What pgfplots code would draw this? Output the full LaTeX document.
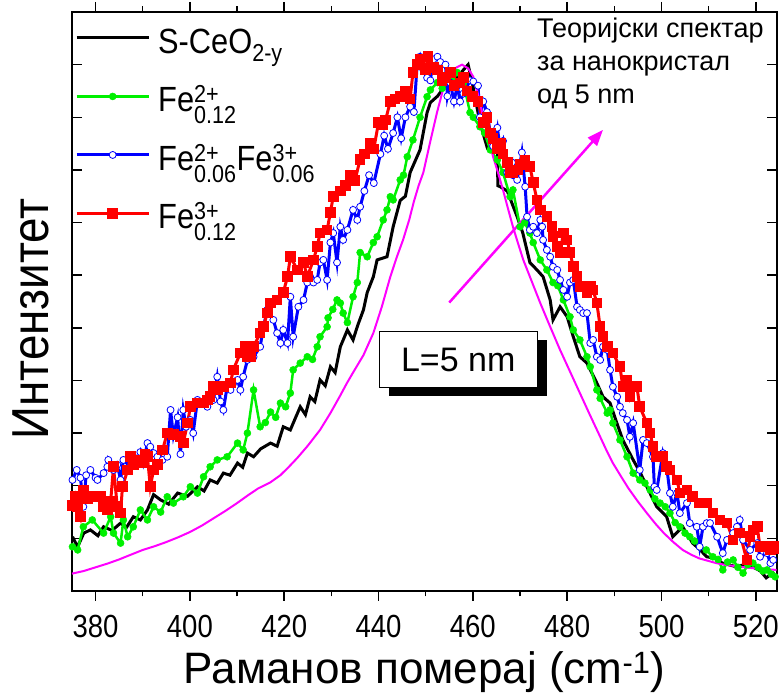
\documentclass[border=0pt]{standalone}
\usepackage{fontspec}
\setmainfont{Liberation Sans}
\newfontfamily\cond{Liberation Sans}[FakeStretch=0.88]
\newfontfamily\tickf{Liberation Sans}[FakeStretch=0.86]
\usepackage{amsmath}
\usepackage{pgfplots}
\pgfplotsset{compat=1.18}
\usetikzlibrary{arrows.meta,shadows}
\definecolor{cgreen}{RGB}{0,240,0}
\definecolor{cblue}{RGB}{0,0,255}
\definecolor{cred}{RGB}{255,0,0}
\definecolor{cmag}{RGB}{255,0,255}
\newcommand\lstrut{\rule[-11pt]{0pt}{43pt}}
\begin{document}
\begin{tikzpicture}
\path[use as bounding box] (-72pt,-102pt) rectangle (707pt,591pt);
\begin{axis}[
  scale only axis, width=705pt, height=579pt,
  at={(0pt,0pt)}, anchor=south west,
  xmin=375, xmax=524.5, ymin=0, ymax=11,
  xtick={380,400,...,520}, minor xtick={390,410,...,510},
  ytick={1,...,10}, yticklabels={},
  xtick pos=both, ytick pos=both,
  xtick align=outside, ytick align=inside,
  major tick length=10pt, minor tick length=5.5pt,
  every tick/.style={black, line width=1.5pt},
  axis line style={line width=1.5pt},
  /pgf/number format/assume math mode=true,
  /pgf/number format/set thousands separator={},
  xticklabel style={font=\tickf\fontsize{32}{36}\selectfont, yshift=-11pt},
  xlabel={Раманов померај (cm$^{\text{-1}}$)},
  ylabel={Интензитет},
  xlabel style={font=\fontsize{44}{50}\selectfont, at={(axis description cs:0.5,0)}, anchor=base, yshift=-92pt},
  ylabel style={font=\cond\fontsize{52}{58}\selectfont, at={(axis description cs:-0.058,0.47)}, anchor=center},
  legend style={at={(axis description cs:0,1)}, anchor=north west, draw=none, fill=none,
     font=\cond\fontsize{35}{40}\selectfont, row sep=21pt, column sep=6pt, inner xsep=3pt, inner ysep=0pt, yshift=-7pt},
  legend cell align=left,
  legend image code/.code={\draw[mark repeat=2,mark phase=2,#1] plot coordinates {(0pt,0pt) (36pt,0pt) (72pt,0pt)};},
]
% S-CeO2-y (black)
\addplot[black, line width=3pt] coordinates {
(375.1,1.03)(376.2,0.84)(377.5,1.10)(378.9,1.16)(380.5,1.05)(381.7,1.22)(383.5,1.15)(385.3,1.29)(386.5,1.20)(388.0,1.41)
(389.5,1.35)(391.0,1.54)(392.3,1.83)(393.8,1.73)(395.5,1.65)(397.4,1.86)(399.5,1.80)(401.6,1.98)(403.0,1.90)(404.3,2.11)
(405.8,2.05)(407.1,2.24)(408.5,2.20)(410.1,2.43)(411.2,2.35)(412.2,2.62)(413.5,2.55)(415.0,2.70)(417.1,2.81)(418.5,2.75)
(419.8,3.12)(421.3,3.06)(422.2,3.25)(423.4,3.50)(424.5,3.35)(425.5,3.69)(426.5,3.60)(427.6,4.01)(428.7,3.90)(429.8,4.26)
(430.8,4.15)(431.9,4.64)(433.4,4.96)(434.6,4.77)(435.6,5.05)(436.8,5.34)(437.6,5.67)(438.9,5.97)(439.7,6.29)(441.8,6.35)
(443.1,6.92)(444.6,7.42)(445.7,7.50)(446.7,7.95)(448.8,8.38)(450.3,9.09)(451.0,9.28)(452.5,9.40)(454.2,9.60)(456.2,9.70)
(458.0,9.90)(459.0,10.00)(460.0,9.60)(461.5,8.90)(463.0,8.44)(464.3,8.60)(465.2,8.60)(465.3,7.70)(465.8,7.68)(467.3,7.60)
(469.4,7.11)(470.6,6.80)(472.1,6.24)(473.6,6.10)(474.9,5.97)(476.4,5.53)(477.0,5.15)(478.5,5.40)(480.0,5.21)(481.3,4.83)
(482.7,4.45)(484.2,4.33)(486.3,3.95)(487.6,3.69)(489.1,3.57)(490.5,3.20)(491.8,2.87)(494.0,2.49)(495.5,2.25)(496.9,1.98)
(499.0,1.60)(501.1,1.41)(502.4,1.03)(504.5,1.22)(506.6,0.91)(508.0,0.80)(509.6,0.65)(511.5,0.62)(512.9,0.53)(515.9,0.46)
(517.5,0.50)(519.3,0.46)(521.0,0.38)(522.2,0.25)(523.9,0.36)
};
\addlegendentry{\lstrut S-CeO$_{\text{\cond 2-y}}$}
% Fe2+ 0.12 (green)
\addplot[cgreen, line width=2.5pt, mark=*, mark size=3.5pt, mark options={fill=cgreen, draw=cgreen, line width=0.5pt}] coordinates {
(375.1,0.84)(376.2,0.78)(377.4,1.22)(379.3,1.35)(381.7,1.10)(383.2,1.41)(383.8,1.10)(385.3,0.91)(385.9,1.35)(386.8,1.03)
(388.0,1.22)(389.5,1.54)(391.0,1.35)(392.3,1.60)(393.8,1.50)(395.2,1.79)(396.5,1.67)(398.6,1.79)(400.1,1.98)(401.6,1.86)
(402.9,2.17)(404.3,2.36)(405.8,2.49)(407.9,2.55)(410.1,2.81)(411.3,2.68)(412.2,3.00)(413.5,3.82)(414.9,3.12)(416.0,3.20)
(417.1,3.40)(418.2,3.30)(419.2,3.57)(420.3,3.50)(421.3,3.76)(421.9,4.20)(423.4,4.33)(424.9,4.45)(426.0,4.40)(427.0,4.64)
(427.6,4.83)(429.1,5.02)(429.3,5.19)(430.3,5.35)(431.2,5.53)(431.9,5.47)(432.5,5.28)(433.4,5.10)(434.6,5.59)(435.5,5.86)
(436.1,6.43)(437.6,6.35)(438.9,6.62)(439.7,6.73)(441.0,7.05)(441.8,7.24)(442.5,7.49)(443.1,7.43)(444.6,7.81)(445.3,7.90)
(446.1,8.25)(447.3,8.57)(448.8,9.00)(450.3,9.39)(451.0,9.52)(452.5,9.66)(453.5,9.55)(454.6,9.77)(455.7,9.70)(456.7,9.85)
(458.0,9.66)(459.4,9.09)(460.1,9.00)(461.5,8.82)(462.5,8.70)(463.7,8.38)(465.2,8.19)(466.4,7.95)(467.9,7.49)(468.5,7.62)
(470.0,6.92)(471.0,7.00)(472.1,6.80)(472.8,6.62)(474.3,6.29)(475.7,6.10)(477.0,5.86)(478.0,5.80)(479.2,5.53)(480.6,5.21)
(481.3,4.96)(482.7,4.77)(484.2,4.45)(484.9,4.26)(486.3,3.82)(487.0,3.66)(488.5,3.38)(489.1,3.44)(489.7,3.19)(491.2,2.87)
(492.7,2.55)(494.0,2.24)(495.4,2.11)(496.5,2.05)(497.6,1.92)(498.6,1.75)(499.7,1.67)(500.8,1.60)(501.8,1.48)(502.9,1.30)
(503.9,1.22)(505.0,1.10)(506.0,1.03)(507.0,0.95)(508.1,0.84)(509.5,0.78)(510.9,0.65)(512.0,0.60)(513.0,0.40)(514.0,0.55)
(515.2,0.59)(516.2,0.45)(517.3,0.34)(518.3,0.50)(519.4,0.53)(520.5,0.45)(521.5,0.38)(522.4,0.40)(523.3,0.32)(524.1,0.27)
};
\addlegendentry{\lstrut Fe$^{\text{\cond 2+}}_{\text{\cond 0.12}}$}
% Fe2+0.06 Fe3+0.06 (blue)
\addplot[cblue, line width=3pt, mark=*, mark size=3.5pt, mark options={fill=white, draw=cblue, line width=0.8pt}] coordinates {
(375.1,2.11)(376.0,2.30)(376.8,2.15)(377.4,1.60)(378.0,2.20)(378.9,2.30)(380.0,2.15)(380.4,2.11)(381.7,2.24)(382.5,2.36)
(382.7,2.49)(383.8,2.30)(384.6,2.40)(385.3,2.11)(385.9,2.49)(387.4,2.36)(388.0,2.55)(388.9,2.49)(389.5,2.64)(390.1,2.43)
(391.0,2.81)(391.6,2.74)(392.3,2.62)(393.1,2.55)(394.2,2.49)(395.2,2.55)(395.9,3.44)(396.5,2.95)(397.4,3.30)(398.0,2.60)
(398.6,3.44)(399.2,3.12)(400.1,3.25)(400.7,3.00)(401.6,3.63)(402.9,3.57)(403.7,3.50)(405.0,3.63)(405.8,4.07)(406.5,3.60)
(407.1,3.44)(407.9,3.88)(408.6,3.82)(409.2,3.95)(410.1,4.01)(410.7,3.82)(411.3,4.07)(412.2,4.39)(413.5,4.45)(414.9,4.64)
(415.6,5.02)(416.4,5.34)(417.7,5.15)(418.5,4.90)(419.2,4.71)(419.8,4.96)(420.7,4.71)(421.3,5.59)(421.9,4.83)(423.0,5.40)
(424.1,5.53)(424.9,5.86)(425.5,5.97)(426.2,5.86)(427.0,5.91)(427.6,6.24)(428.3,6.29)(429.1,5.91)(429.8,6.62)(430.4,6.80)
(431.2,6.24)(431.9,6.92)(432.5,6.67)(433.4,6.86)(434.6,7.24)(435.5,7.05)(436.1,7.30)(437.0,7.60)(438.0,7.90)(439.0,7.75)
(440.4,8.30)(441.2,8.65)(442.0,8.40)(443.1,8.70)(444.0,9.00)(444.8,8.60)(445.7,9.00)(446.7,9.20)(447.5,9.10)(448.2,10.00)
(448.8,10.15)(449.5,9.90)(450.3,9.75)(451.0,9.70)(451.6,10.10)(452.5,10.15)(453.1,10.05)(454.2,10.00)(454.6,9.40)(455.2,9.66)
(456.0,9.30)(456.7,9.60)(457.3,9.30)(458.0,9.45)(459.4,9.70)(460.1,9.68)(461.1,9.60)(461.5,9.00)(462.2,9.30)(463.0,9.10)
(463.7,8.70)(464.3,8.45)(465.2,8.80)(465.8,8.40)(466.4,8.55)(467.3,7.95)(468.3,8.14)(468.5,7.90)(469.4,7.81)(470.4,8.33)
(471.1,7.68)(471.5,7.11)(472.1,6.86)(472.8,6.92)(473.6,6.80)(474.3,7.05)(474.7,6.92)(474.9,6.67)(475.7,6.48)(476.4,6.35)
(477.0,6.16)(477.9,6.10)(478.5,5.91)(479.2,5.72)(480.0,5.59)(480.6,5.86)(481.3,5.91)(482.1,5.40)(482.7,5.34)(483.4,5.28)
(484.2,5.28)(484.9,4.71)(485.5,4.77)(486.3,4.45)(487.0,4.39)(487.6,4.64)(488.5,4.58)(489.1,4.20)(489.7,3.88)(490.6,3.69)
(491.2,3.50)(491.8,3.38)(492.7,3.25)(493.3,2.93)(494.0,3.19)(495.4,2.30)(496.1,2.87)(496.9,2.81)(498.2,2.55)(498.5,1.98)
(499.0,1.92)(500.3,2.62)(501.1,2.36)(501.8,1.86)(502.4,1.60)(503.3,1.86)(503.9,1.48)(505.4,1.67)(506.0,1.29)(507.5,1.22)
(508.1,0.84)(508.8,1.22)(509.6,1.29)(510.3,1.29)(511.8,1.03)(513.0,0.72)(513.9,0.97)(515.2,1.10)(516.0,1.22)(516.6,1.35)
(517.3,0.97)(518.8,0.78)(520.3,0.91)(520.9,0.65)(522.4,0.72)(523.1,0.53)(523.7,0.59)
};
\addlegendentry{\lstrut Fe$^{\text{\cond 2+}}_{\text{\cond 0.06}}$Fe$^{\text{\cond 3+}}_{\text{\cond 0.06}}$}
% Fe3+ 0.12 (red)
\addplot[cred, line width=3pt, mark=square*, mark size=3.8pt, mark options={fill=cred, draw=cred}] coordinates {
(375.1,1.63)(375.7,1.80)(376.2,1.60)(376.8,1.41)(377.4,1.92)(378.3,1.75)(378.9,1.79)(380.4,1.80)(381.0,1.79)(381.7,1.60)
(382.5,1.54)(383.2,1.70)(383.8,2.36)(384.6,1.60)(385.3,1.48)(385.7,1.98)(386.8,2.30)(387.4,2.55)(388.0,2.40)(388.9,2.49)
(389.9,2.43)(390.5,2.60)(391.0,2.55)(391.6,1.98)(392.3,2.30)(393.1,2.40)(394.2,2.68)(395.2,3.00)(396.5,2.97)(398.0,2.93)
(398.6,2.81)(399.5,3.19)(400.1,3.50)(401.6,3.57)(402.9,3.57)(403.7,3.63)(404.3,3.69)(405.0,3.88)(405.8,3.82)(407.1,3.88)
(408.6,3.95)(409.2,4.20)(410.7,4.52)(411.8,4.64)(412.2,4.45)(412.8,4.45)(413.5,4.64)(414.9,4.90)(415.6,5.02)(416.4,5.28)
(417.1,5.47)(418.5,5.53)(419.8,5.67)(420.7,5.97)(421.3,6.35)(422.8,6.10)(424.1,6.24)(424.9,5.97)(426.2,6.29)(427.0,6.54)
(427.6,6.80)(429.1,6.86)(429.8,7.19)(430.4,7.50)(431.9,7.60)(433.0,7.70)(434.0,7.90)(435.0,7.80)(436.1,8.20)(437.0,8.30)
(438.2,8.50)(439.0,8.40)(440.0,8.90)(440.8,8.85)(441.5,8.95)(442.5,9.30)(443.5,9.35)(444.6,9.40)(445.7,9.50)(446.7,9.35)
(447.3,9.85)(448.2,10.00)(448.8,10.10)(449.9,9.90)(450.5,10.15)(451.6,9.95)(452.5,9.90)(453.5,9.70)(454.2,9.75)(455.2,9.85)
(456.0,9.60)(457.3,9.65)(458.0,9.75)(458.8,9.50)(459.9,9.40)(461.1,9.30)(462.2,8.90)(463.0,9.00)(463.7,8.70)(464.3,8.60)
(465.2,8.40)(466.0,8.50)(466.4,8.30)(467.3,8.14)(467.9,7.95)(468.5,7.95)(469.5,8.00)(470.0,8.10)(471.1,8.19)(472.1,8.06)
(472.8,7.76)(473.6,7.43)(474.3,7.24)(475.7,7.11)(476.8,6.92)(477.0,6.73)(477.9,6.54)(478.5,6.43)(479.2,6.80)(480.0,6.67)
(480.6,6.43)(481.3,6.16)(482.1,5.97)(482.7,5.78)(484.2,5.67)(484.9,5.78)(485.5,5.72)(486.3,5.47)(487.0,5.02)(487.6,4.83)
(488.5,4.64)(489.7,4.52)(491.2,4.26)(491.8,3.88)(492.7,4.01)(493.3,3.69)(494.0,3.88)(494.8,3.88)(495.4,3.50)(496.9,3.19)
(497.6,3.00)(498.2,2.74)(499.0,2.55)(500.3,2.55)(501.1,2.36)(501.8,2.30)(503.3,2.11)(503.9,1.86)(505.4,1.92)(506.6,1.79)
(508.1,1.67)(509.6,1.67)(510.9,1.48)(512.4,1.35)(513.9,1.29)(515.2,0.97)(516.6,1.10)(518.1,0.59)(518.8,1.03)(519.4,1.16)
(520.3,1.22)(520.9,0.84)(522.4,0.84)(523.1,0.78)(523.7,0.84)(524.4,0.80)
};
\addlegendentry{\lstrut Fe$^{\text{\cond 3+}}_{\text{\cond 0.12}}$}
% theoretical spectrum (magenta)
\addplot[cmag, line width=2pt, forget plot] coordinates {
(375,0.33)(377.5,0.38)(380,0.45)(382.5,0.52)(385,0.60)(387.5,0.69)(390,0.78)(392.5,0.85)(395,0.93)(397.5,1.02)(400,1.12)
(402.5,1.24)(405,1.38)(407.5,1.52)(410,1.67)(412.5,1.83)(414.5,1.95)(417,2.06)(419.2,2.20)(421,2.36)(422.8,2.53)(425,2.76)
(427.6,3.06)(429.8,3.38)(431.8,3.70)(433.3,3.95)(434.6,4.15)(436.8,4.48)(438.9,4.90)(440.7,5.40)(442.5,5.97)(443.9,6.35)
(445.2,6.67)(446.5,7.05)(447.5,7.40)(448.5,7.70)(449.5,7.95)(451.0,8.55)(452.4,9.09)(453.6,9.50)(454.7,9.77)(456.2,9.93)
(457.7,10.00)(459.0,9.93)(460.1,9.77)(461.2,9.40)(462.2,9.00)(463.3,8.60)(464.3,8.25)(465.4,7.93)(466.4,7.62)(467.5,7.25)
(468.5,6.92)(469.6,6.60)(470.7,6.29)(472.5,5.88)(474.3,5.47)(476.4,5.02)(478.5,4.58)(480.6,4.17)(482.7,3.76)(484.8,3.35)
(487.0,2.93)(488.3,2.68)(489.7,2.43)(491.4,2.18)(493.0,1.95)(495.0,1.70)(496.9,1.48)(498.7,1.28)(500.5,1.10)(502.5,0.93)
(504.5,0.78)(506.3,0.69)(508.0,0.62)(510.0,0.57)(511.6,0.53)(513.3,0.50)(515.0,0.48)(516.8,0.46)(518.6,0.44)(521.5,0.42)(524.4,0.40)
};
% arrow and annotations
\draw[cmag, line width=2.5pt, -{Triangle[length=16pt,width=12pt]}] (axis cs:455.0,5.48) -- (axis cs:487.6,8.76);
\node[anchor=north west, align=left, inner sep=0pt, font=\fontsize{27}{33}\selectfont] at (axis cs:473.6,10.9) {Теоријски спектар\\за нанокристал\\од 5 nm};
\node[draw=black, line width=1pt, fill=white, minimum width=158pt, minimum height=56pt,
      drop shadow={shadow xshift=9.5pt, shadow yshift=-8pt, opacity=1, fill=black},
      font=\fontsize{34}{40}\selectfont] at (axis cs:456.9,4.39) {L=5 nm};
\end{axis}
\end{tikzpicture}
\end{document}
